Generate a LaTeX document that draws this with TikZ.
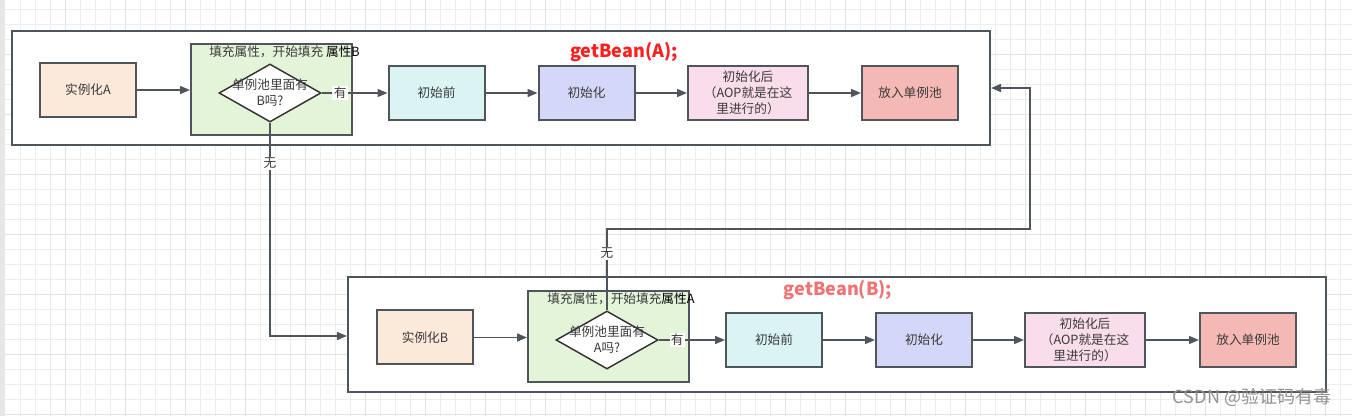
\documentclass[tikz,border=0pt]{standalone}
\usepackage{fontspec}
\setmainfont{Noto Sans CJK SC}
\usepackage{xcolor}
\usetikzlibrary{shapes.geometric,arrows.meta}

\definecolor{lineC}{HTML}{50555B}
\definecolor{txtC}{HTML}{3A3A3A}
\definecolor{gridC}{HTML}{EDEDED}
\definecolor{gridD}{HTML}{E2E2E2}
\definecolor{stripC}{HTML}{E6E6E6}
\definecolor{peachC}{HTML}{FBE9DA}
\definecolor{greenC}{HTML}{E3F4D9}
\definecolor{cyanC}{HTML}{DAF4F4}
\definecolor{lavC}{HTML}{D4D7F7}
\definecolor{pinkC}{HTML}{F9DDEA}
\definecolor{roseC}{HTML}{F4B9B5}
\definecolor{redA}{HTML}{FF1F1F}
\definecolor{redB}{HTML}{F07272}

\begin{document}
\begin{tikzpicture}[x=0.75pt,y=-0.75pt,
	box/.style={draw=lineC, line width=1.5pt, minimum width=72pt, minimum height=40.5pt,
		inner sep=1pt, text=txtC, align=center, font=\fontsize{9.5}{12}\selectfont},
	frame/.style={draw=lineC, line width=1.6pt, fill=white, inner sep=0pt},
	fillbox/.style={draw=lineC, line width=1.5pt, fill=greenC, inner sep=0pt,
		minimum width=120.75pt, minimum height=68.25pt},
	choice/.style={diamond, draw=black!80, line width=1.1pt, fill=white, inner sep=0pt,
		minimum width=76.5pt, minimum height=43.5pt},
	txt/.style={text=txtC, align=center, font=\fontsize{9.5}{12}\selectfont},
	lbl/.style={fill=white, inner sep=1pt, text=txtC, font=\fontsize{9.5}{12}\selectfont},
	arr/.style={draw=lineC, line width=1.2pt, -{Triangle[length=7.5pt,width=6pt]}},
	title/.style={font=\fontsize{13.5}{16}\selectfont\bfseries}]
	
	%Background grid
	\useasboundingbox (0,0) rectangle (1352,416);
	\fill[white] (0,0) rectangle (1352,416);
	\foreach \gx in {20.5,35.5,...,1352} \draw[gridC, line width=0.8pt] (\gx,0) -- (\gx,416);
	\foreach \gy in {9.3,24.3,...,416} \draw[gridC, line width=0.8pt] (5,\gy) -- (1352,\gy);
	\foreach \gx in {65.5,125.5,...,1352} \draw[gridD, line width=0.8pt] (\gx,0) -- (\gx,416);
	\foreach \gy in {54.3,114.3,...,416} \draw[gridD, line width=0.8pt] (5,\gy) -- (1352,\gy);
	\fill[stripC] (0,0) rectangle (5,416);
	
	%Frames
	\node[frame, minimum width=733.5pt, minimum height=85.5pt] (bA) at (501,88) {};
	\node[frame, minimum width=733.5pt, minimum height=86.25pt] (bB) at (837,334.5) {};
	
	%Titles
	\node[title, text=redA] (tA) at (624,52) {getBean(A);};
	\node[title, text=redB] (tB) at (838,290) {getBean(B);};
	
	%Row A
	\node[box, fill=peachC] (iA) at (88,90) {实例化A};
	\node[fillbox] (gA) at (271.5,89.5) {};
	\node[txt] (gAt) at (284.5,52) {填充属性，开始填充 \textcolor{black}{属性B}};
	\node[choice] (dA) at (270,93) {};
	\node[txt] (dAt) at (270,93) {单例池里面有\\B吗?};
	\node[box, fill=cyanC] (qA) at (436.5,93) {初始前};
	\node[box, fill=lavC] (cA) at (586.5,93) {初始化};
	\node[box, fill=pinkC, minimum width=90pt] (hA) at (748,93) {初始化后\\（AOP就是在这\\里进行的）};
	\node[box, fill=roseC] (pA) at (910,93) {放入单例池};
	
	%Row B
	\node[box, fill=peachC] (iB) at (425,337.5) {实例化B};
	\node[fillbox] (gB) at (608.5,336.5) {};
	\node[txt] (gBt) at (621,299) {填充属性，开始填充\textcolor{black}{属性A}};
	\node[choice] (dB) at (607,340) {};
	\node[txt] (dBt) at (607,340) {单例池里面有\\A吗?};
	\node[box, fill=cyanC] (qB) at (774,340) {初始前};
	\node[box, fill=lavC] (cB) at (924,340) {初始化};
	\node[box, fill=pinkC, minimum width=90pt] (hB) at (1085,340) {初始化后\\（AOP就是在这\\里进行的）};
	\node[box, fill=roseC] (pB) at (1248,340) {放入单例池};
	
	%Lines A
	\draw[arr] (iA) -- (gA.west |- iA);
	\draw[arr] (dA.east) -- node[lbl, pos=0.28] {有} (qA);
	\draw[arr] (qA) -- (cA);
	\draw[arr] (cA) -- (hA);
	\draw[arr] (hA) -- (pA);
	
	%Lines B
	\draw[arr] (iB) -- (gB.west |- iB);
	\draw[arr] (dB.east) -- node[lbl, pos=0.28] {有} (qB);
	\draw[arr] (qB) -- (cB);
	\draw[arr] (cB) -- (hB);
	\draw[arr] (hB) -- (pB);
	
	%Back links
	\coordinate (cL) at (270,336);
	\coordinate (cR) at (1030,229);
	\draw[arr] (dA.south) -- node[lbl, pos=0.19] {无} (cL) -- (bB.west |- cL);
	\draw[arr] (dB.north) |- node[lbl, pos=0.35] {无} (cR) |- (bA.east);
	
	%Watermark
	\node[text=gray!85, font=\fontsize{13.5}{16}\selectfont] (wm) at (1252,397) {CSDN @验证码有毒};
\end{tikzpicture}
\end{document}
